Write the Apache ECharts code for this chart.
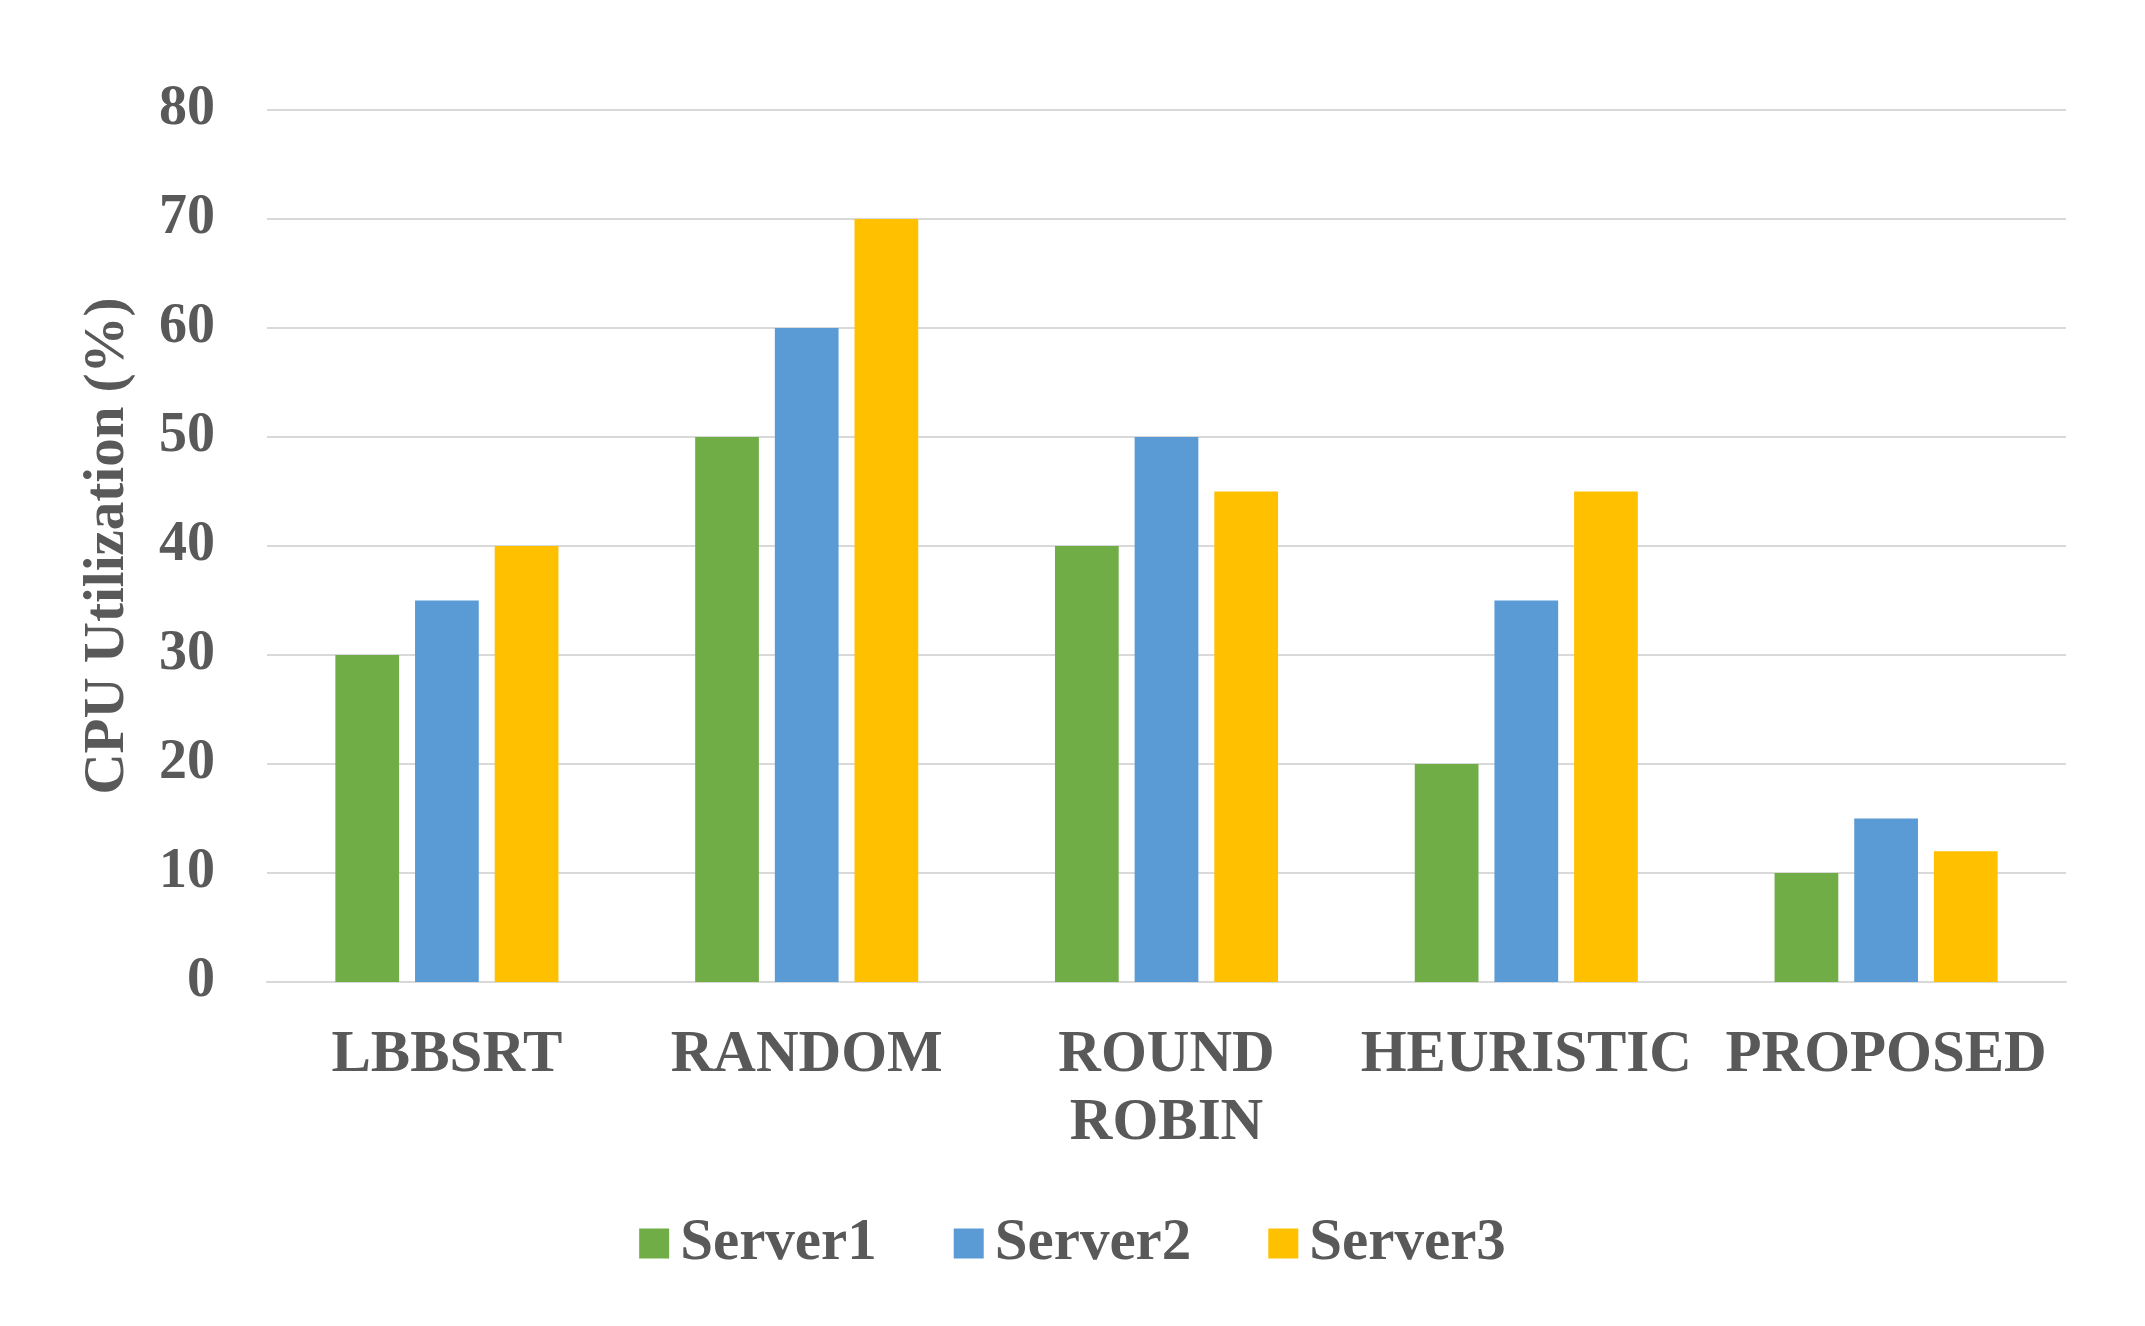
<!DOCTYPE html>
<html>
<head>
<meta charset="utf-8">
<script src="https://cdn.jsdelivr.net/npm/echarts@6/dist/echarts.min.js"></script>
<style>
html,body{margin:0;padding:0;background:#fff;}
#chart{width:2145px;height:1326px;}
</style>
</head>
<body>
<div id="chart"></div>
<script>
const categories = ["LBBSRT", "RANDOM", "ROUND\nROBIN", "HEURISTIC", "PROPOSED"];
const server1 = [30, 50, 40, 20, 10];
const server2 = [35, 60, 50, 35, 15];
const server3 = [40, 70, 45, 45, 12];
const seriesNames = ["Server1", "Server2", "Server3"];
const yTicks = { min: 0, max: 80, interval: 10 };

const txt = '#595959';
const font = '"Liberation Serif", "Times New Roman", serif';
const chart = echarts.init(document.getElementById('chart'));
chart.setOption({
  backgroundColor: '#ffffff',
  animation: false,
  textStyle: { fontFamily: font },
  grid: { left: 267, right: 79, top: 110, bottom: 344 },
  legend: {
    bottom: 48,
    left: 'center',
    itemWidth: 30,
    itemHeight: 30,
    itemGap: 77,
    icon: 'rect',
    textStyle: { fontFamily: font, fontWeight: 'bold', fontSize: 59, color: txt, padding: [0, 0, 0, 6] },
    data: seriesNames
  },
  xAxis: {
    type: 'category',
    data: categories,
    axisLine: { show: true, lineStyle: { color: '#d9d9d9', width: 2 } },
    axisTick: { show: false },
    axisLabel: { fontFamily: font, fontWeight: 'bold', fontSize: 59, color: txt, margin: 40, lineHeight: 68, interval: 0 }
  },
  yAxis: {
    type: 'value',
    min: yTicks.min, max: yTicks.max, interval: yTicks.interval,
    name: 'CPU Utilization (%)',
    nameLocation: 'middle',
    nameGap: 130,
    nameTextStyle: { fontFamily: font, fontWeight: 'bold', fontSize: 57, color: txt },
    axisLine: { show: false },
    axisTick: { show: false },
    splitLine: { lineStyle: { color: '#d9d9d9', width: 2 } },
    axisLabel: { fontFamily: font, fontWeight: 'bold', fontSize: 56, color: txt, margin: 52 }
  },
  series: [
    { name: seriesNames[0], type: 'bar', data: server1, itemStyle: { color: '#70AD47' }, barGap: '25%', barCategoryGap: '38%' },
    { name: seriesNames[1], type: 'bar', data: server2, itemStyle: { color: '#5B9BD5' }, barGap: '25%', barCategoryGap: '38%' },
    { name: seriesNames[2], type: 'bar', data: server3, itemStyle: { color: '#FFC000' }, barGap: '25%', barCategoryGap: '38%' }
  ]
});
</script>
</body>
</html>
